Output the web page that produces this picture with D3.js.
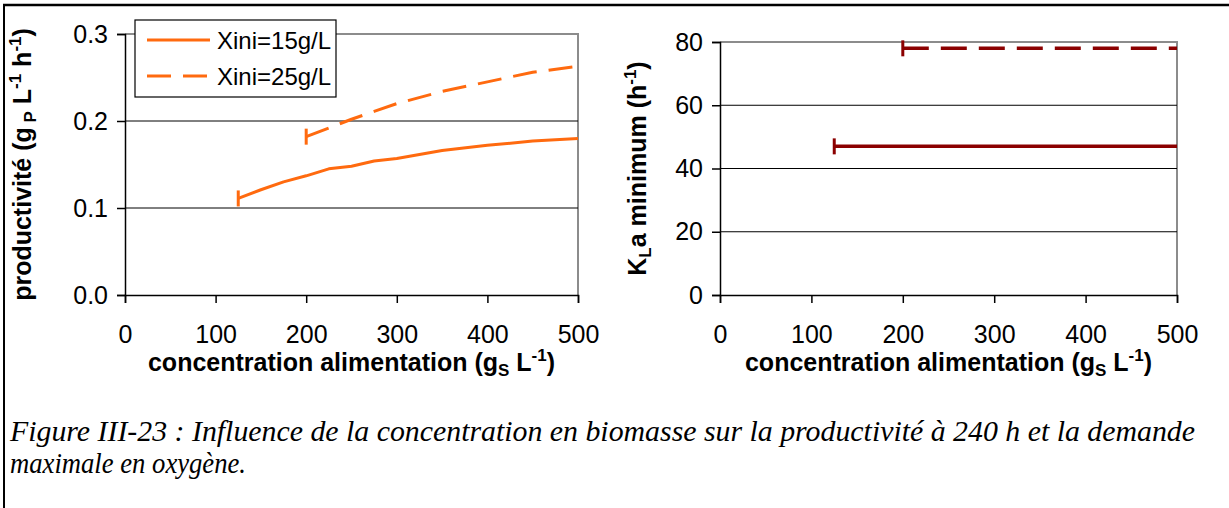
<!DOCTYPE html>
<html><head><meta charset="utf-8">
<script src="https://cdn.jsdelivr.net/npm/d3@7"></script>
<style>
body{margin:0;background:#fff} svg{display:block}
svg text{font-family:"Liberation Sans",Arial,Helvetica,sans-serif}
svg text.caption{font-family:"Liberation Serif","Times New Roman",Times,serif;font-style:italic}
</style>
</head><body><svg id="fig" width="1229" height="508"></svg>
<script>
// Productivity at 240 h versus feed concentration, two initial biomass levels
const feedConc15 = [125, 150, 175, 200, 225, 250, 275, 300, 350, 400, 450, 500];
const prod15     = [0.111, 0.121, 0.130, 0.137, 0.145, 0.148, 0.154, 0.157, 0.166, 0.172, 0.177, 0.180];
const feedConc25 = [200, 225, 250, 275, 300, 350, 400, 450, 500];
const prod25     = [0.182, 0.192, 0.202, 0.211, 0.220, 0.234, 0.245, 0.256, 0.263];
// Minimum KLa required
const klaConc15 = [125, 200, 300, 400, 500];
const kla15     = [47, 47, 47, 47, 47];
const klaConc25 = [200, 300, 400, 500];
const kla25     = [78, 78, 78, 78];

const xTicks    = [0, 100, 200, 300, 400, 500];
const prodTicks = [0, 0.1, 0.2, 0.3];
const klaTicks  = [0, 20, 40, 60, 80];
const seriesNames = ["Xini=15g/L", "Xini=25g/L"];

const svg = d3.select("#fig");

// frame around the figure
svg.append("line").attr("x1", 3).attr("x2", 1229).attr("y1", 5).attr("y2", 5)
  .attr("stroke", "#000").attr("stroke-width", 2.5);
svg.append("line").attr("x1", 4).attr("x2", 4).attr("y1", 4).attr("y2", 508)
  .attr("stroke", "#000").attr("stroke-width", 2);

function panel(opts) {
  const x = d3.scaleLinear().domain([0, 500]).range([opts.left, opts.right]);
  const y = d3.scaleLinear().domain([0, opts.yMax]).range([opts.bottom, opts.top]);
  const g = svg.append("g");

  // plot area border (grey) on top and right
  g.append("path")
    .attr("d", `M${x(0)},${y(opts.yMax)}H${x(500)}V${y(0)}`)
    .attr("fill", "none").attr("stroke", "#8c8c8c").attr("stroke-width", 2);

  // horizontal gridlines
  g.selectAll("line.grid").data(opts.yTicks.filter(v => v > 0 && v < opts.yMax))
    .join("line").attr("class", "grid")
    .attr("x1", x(0)).attr("x2", x(500))
    .attr("y1", d => y(d)).attr("y2", d => y(d))
    .attr("stroke", "#000").attr("stroke-width", 1);

  const yAxis = g.append("g").attr("transform", `translate(${x(0)},0)`)
    .call(d3.axisLeft(y).tickValues(opts.yTicks).tickFormat(opts.fmt).tickSize(8).tickPadding(9));
  const xAxis = g.append("g").attr("transform", `translate(0,${y(0)})`)
    .call(d3.axisBottom(x).tickValues(xTicks).tickFormat(d3.format("d")).tickSize(8).tickPadding(22));
  [yAxis, xAxis].forEach(a => {
    a.attr("font-family", null).attr("font-size", null);
    a.select(".domain").attr("stroke", "#000").attr("stroke-width", 1.5);
    a.selectAll(".tick line").attr("stroke", "#000").attr("stroke-width", 1.5);
    a.selectAll("text").style("font-size", "25px").attr("fill", "#000");
  });
  xAxis.selectAll("text").attr("dy", "0.71em");

  const line = d3.line().x(d => x(d[0])).y(d => y(d[1]));
  opts.series.forEach(s => {
    const pts = s.xs.map((v, i) => [v, s.ys[i]]);
    g.append("path").attr("d", line(pts))
      .attr("fill", "none").attr("stroke", opts.color).attr("stroke-width", opts.width)
      .attr("stroke-dasharray", s.dash || null).attr("stroke-linejoin", "round");
    // start marker
    g.append("line")
      .attr("x1", x(pts[0][0])).attr("x2", x(pts[0][0]))
      .attr("y1", y(pts[0][1]) - 8).attr("y2", y(pts[0][1]) + 8)
      .attr("stroke", opts.color).attr("stroke-width", 3);
  });

  // axis titles
  const xt = g.append("text").attr("x", (opts.left + opts.right) / 2).attr("y", opts.xTitleY)
    .attr("text-anchor", "middle").attr("font-weight", "bold")
    .style("font-size", "25px").attr("fill", "#000");
  xt.append("tspan").text("concentration alimentation (g");
  xt.append("tspan").style("font-size", "17px").attr("dy", 5).text("S");
  xt.append("tspan").attr("dy", -5).text(" L");
  xt.append("tspan").style("font-size", "17px").attr("dy", -10).text("-1");
  xt.append("tspan").attr("dy", 10).text(")");

  const yt = g.append("text")
    .attr("transform", `translate(${opts.yTitleX},${(opts.top + opts.bottom) / 2}) rotate(-90)`)
    .attr("text-anchor", "middle").attr("font-weight", "bold")
    .style("font-size", "25px").attr("fill", "#000");
  opts.yTitle(yt);
  return { x, y, g };
}

panel({
  left: 125, right: 578, top: 34, bottom: 295, yMax: 0.3,
  yTicks: prodTicks, fmt: d3.format(".1f"), color: "#ff6a0f", width: 3,
  xTitleY: 371, yTitleX: 31,
  series: [
    { xs: feedConc15, ys: prod15 },
    { xs: feedConc25, ys: prod25, dash: "24,12" }
  ],
  yTitle: t => {
    t.append("tspan").text("productivité (g");
    t.append("tspan").style("font-size", "17px").attr("dy", 5).text(" P");
    t.append("tspan").attr("dy", -5).text(" L");
    t.append("tspan").style("font-size", "17px").attr("dy", -10).text("-1");
    t.append("tspan").attr("dy", 10).text(" h");
    t.append("tspan").style("font-size", "17px").attr("dy", -10).text("-1");
    t.append("tspan").attr("dy", 10).text(")");
  }
});

panel({
  left: 720, right: 1177, top: 42, bottom: 295, yMax: 80,
  yTicks: klaTicks, fmt: d3.format("d"), color: "#8b0000", width: 3.5,
  xTitleY: 371, yTitleX: 646,
  series: [
    { xs: klaConc15, ys: kla15 },
    { xs: klaConc25, ys: kla25, dash: "26,12" }
  ],
  yTitle: t => {
    t.append("tspan").text("K");
    t.append("tspan").style("font-size", "17px").attr("dy", 5).text("L");
    t.append("tspan").attr("dy", -5).text("a minimum (h");
    t.append("tspan").style("font-size", "17px").attr("dy", -10).text("-1");
    t.append("tspan").attr("dy", 10).text(")");
  }
});

// legend for the productivity panel
const lg = svg.append("g").attr("transform", "translate(135,20)");
lg.append("rect").attr("width", 201).attr("height", 77)
  .attr("fill", "#fff").attr("stroke", "#000").attr("stroke-width", 1.2);
seriesNames.forEach((name, i) => {
  const yy = 20 + i * 36;
  lg.append("line").attr("x1", 12).attr("x2", 75).attr("y1", yy).attr("y2", yy)
    .attr("stroke", "#ff6a0f").attr("stroke-width", 3)
    .attr("stroke-dasharray", i === 1 ? "24,12" : null);
  lg.append("text").attr("x", 82).attr("y", yy).attr("dy", "0.36em")
    .style("font-size", "24px").attr("fill", "#000").text(name);
});

// caption
svg.append("text").attr("class", "caption").attr("x", 10).attr("y", 441)
  .style("font-size", "30px")
  .attr("textLength", 1185).attr("lengthAdjust", "spacingAndGlyphs")
  .text("Figure III-23 : Influence de la concentration en biomasse sur la productivité à 240 h  et la demande");
svg.append("text").attr("class", "caption").attr("x", 10).attr("y", 473)
  .style("font-size", "30px")
  .attr("textLength", 236).attr("lengthAdjust", "spacingAndGlyphs")
  .text("maximale en oxygène.");
</script>
</body></html>
